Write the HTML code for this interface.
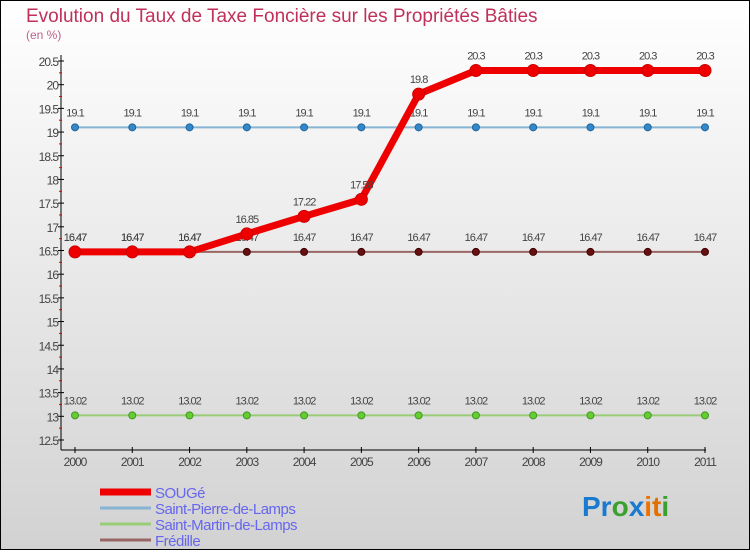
<!DOCTYPE html>
<html><head><meta charset="utf-8"><style>
html,body{margin:0;padding:0;}
body{width:750px;height:550px;overflow:hidden;font-family:"Liberation Sans",sans-serif;}
svg text{font-family:"Liberation Sans",sans-serif;}
</style></head><body>
<svg id="c" width="750" height="550" xmlns="http://www.w3.org/2000/svg">
<defs><linearGradient id="bg" x1="0" y1="0" x2="0" y2="1"><stop offset="0" stop-color="#ffffff"/><stop offset="1" stop-color="#d2d2d2"/></linearGradient></defs>
<rect x="0.5" y="0.5" width="749" height="549" fill="url(#bg)" stroke="#000"/>
<text x="26" y="22" font-size="19" fill="#c0305a">Evolution du Taux de Taxe Foncière sur les Propriétés Bâties</text>
<text x="26" y="39" font-size="12" fill="#c0608a">(en %)</text>
<g id="axes"></g>
<g id="series"></g>
<g id="legend"></g>
<g font-size="28" font-weight="bold">
<text x="582" y="516"><tspan fill="#1a7ad0">Pr</tspan><tspan fill="#3aa030">o</tspan><tspan fill="#1a7ad0">x</tspan><tspan fill="#f07000">i</tspan><tspan fill="#e07000">t</tspan><tspan fill="#3aa030">i</tspan></text>
</g>
</svg>
<script>
const years=[2000,2001,2002,2003,2004,2005,2006,2007,2008,2009,2010,2011];
const yTicks=[12.5,13,13.5,14,14.5,15,15.5,16,16.5,17,17.5,18,18.5,19,19.5,20,20.5];
const sougeVals=[16.47,16.47,16.47,16.85,17.22,17.58,19.8,20.3,20.3,20.3,20.3,20.3];
const stPierreVals=[19.1,19.1,19.1,19.1,19.1,19.1,19.1,19.1,19.1,19.1,19.1,19.1];
const stMartinVals=[13.02,13.02,13.02,13.02,13.02,13.02,13.02,13.02,13.02,13.02,13.02,13.02];
const fredilleVals=[16.47,16.47,16.47,16.47,16.47,16.47,16.47,16.47,16.47,16.47,16.47,16.47];
const NS="http://www.w3.org/2000/svg";
const xs=i=>75+i*(705-75)/(years.length-1);
const ys=v=>440-(v-12.5)*(440-61)/8;
function mk(parent,tag,attrs){const e=document.createElementNS(NS,tag);for(const k in attrs)e.setAttribute(k,attrs[k]);parent.appendChild(e);return e;}
const axes=document.getElementById('axes');
let l=mk(axes,'line',{x1:61,y1:55,x2:61,y2:450,stroke:'#000'});


l=mk(axes,'line',{x1:61,y1:450,x2:706,y2:450,stroke:'#000'});


yTicks.forEach((v,i)=>{
  const y=ys(v);
  mk(axes,'line',{x1:58,y1:y,x2:64,y2:y,stroke:'#000'});
  if(i<yTicks.length-1){mk(axes,'line',{x1:59,y1:y-11.85,x2:62,y2:y-11.85,stroke:'#d00'});}
  const t=mk(axes,'text',{x:58,y:y+5,'font-size':12,'text-anchor':'end',fill:'#444','letter-spacing':'-1'});
  t.textContent=String(v);
  
  
});
years.forEach((yr,i)=>{
  const x=xs(i);
  mk(axes,'line',{x1:x,y1:447,x2:x,y2:453,stroke:'#000'});
  const t=mk(axes,'text',{x:x,y:466,'font-size':12,'text-anchor':'middle',fill:'#444','letter-spacing':'-1'});
  t.textContent=String(yr);
  
  
});
const sg=document.getElementById('series');
function series(name,vals,color,width,r,dot,dotStroke){
  const g=mk(sg,'g',{});
  
  
  mk(g,'polyline',{points:vals.map((v,i)=>xs(i)+','+ys(v)).join(' '),fill:'none',stroke:color,'stroke-width':width,'stroke-linejoin':'round'});
  vals.forEach((v,i)=>{
    const c=mk(g,'circle',{cx:xs(i),cy:ys(v),r:r,fill:dot,stroke:dotStroke,'stroke-width':1});
    
    
    const t=mk(g,'text',{x:xs(i),y:ys(v)-11,'font-size':11,'text-anchor':'middle',fill:'#444','letter-spacing':'-1'});
    t.textContent=String(v);
    
    
  });
}
series('saint-martin',stMartinVals,'#99cc77',2,3.5,'#66cc33','#449922');
series('saint-pierre',stPierreVals,'#88b4d4',2,3.5,'#3388cc','#226699');
series('fredille',fredilleVals,'#996666',2,3.5,'#661111','#440000');
series('souge',sougeVals,'#ee0000',7,6,'#ee0000','#cc0000');
const lg=document.getElementById('legend');
const names=['SOUGé','Saint-Pierre-de-Lamps','Saint-Martin-de-Lamps','Frédille'];
const cols=['#ee0000','#88b4d4','#99cc77','#996666'];
const wids=[7,3,3,3];
names.forEach((n,i)=>{
  const y=492+i*16;
  const g=mk(lg,'g',{});
  
  
  mk(g,'line',{x1:100,y1:y,x2:151,y2:y,stroke:cols[i],'stroke-width':wids[i]});
  const t=mk(g,'text',{x:155,y:y+6,'font-size':15,fill:'#6666ee','letter-spacing':'-0.5'});
  t.textContent=n;
});
</script>
</body></html>
